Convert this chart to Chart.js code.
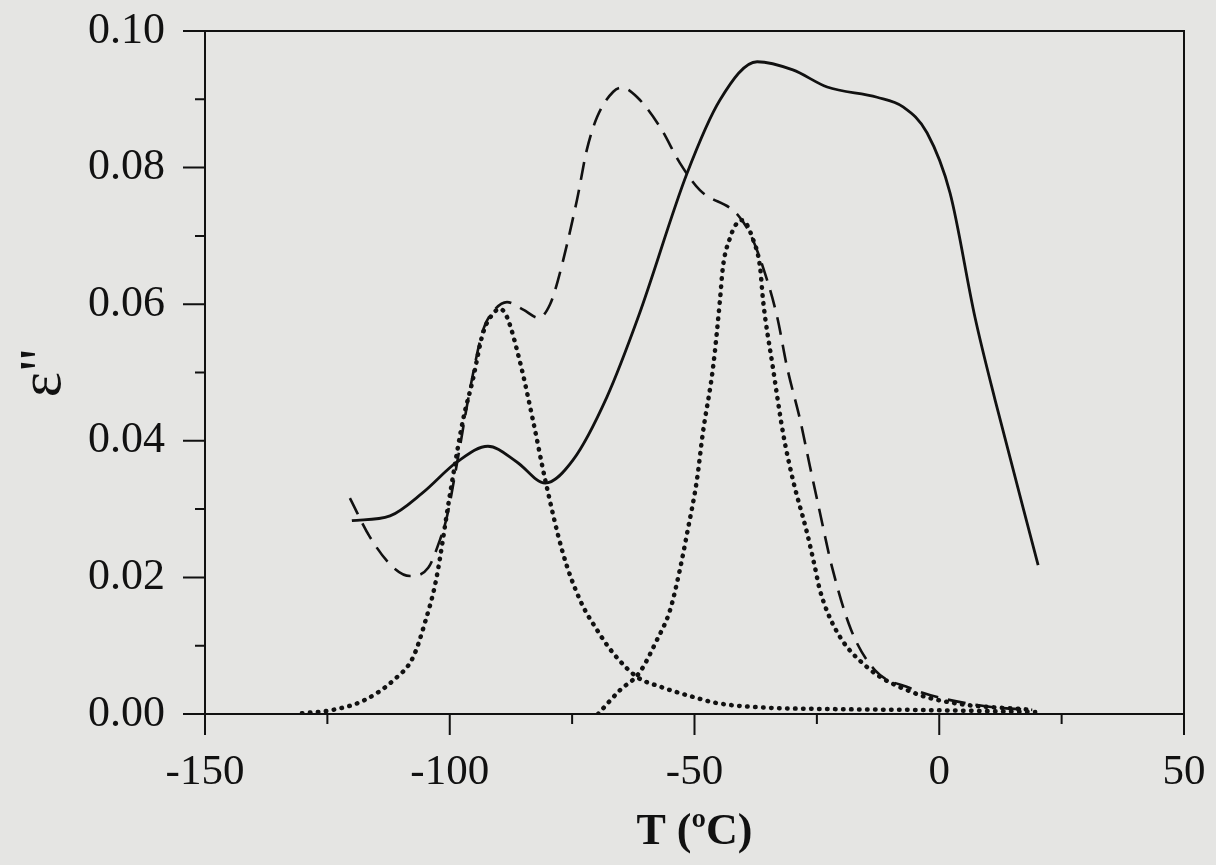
<!DOCTYPE html>
<html>
<head>
<meta charset="utf-8">
<script src="https://cdn.jsdelivr.net/npm/chart.js@4/dist/chart.umd.min.js"></script>
<style>
  html, body { margin: 0; padding: 0; background: #e5e5e3; }
  #wrap { width: 1216px; height: 865px; position: relative; }
</style>
</head>
<body>
<div id="wrap"><canvas id="chart"></canvas></div>
<script>
// values (T in degC, eps'' loss)
const solidT = [-120, -112.2, -105.5, -98.5, -92.2, -86.3, -80.5, -74.8, -67.9, -61.4, -51.5, -44.8, -37.2, -29.9, -22.9, -12.7, -7.4, -2.5, 2.2, 7.3, 11.4, 20.2];
const solidE = [0.0283, 0.0290, 0.0324, 0.0369, 0.0392, 0.0369, 0.0338, 0.0372, 0.0464, 0.0583, 0.0792, 0.0899, 0.0955, 0.0943, 0.0918, 0.0903, 0.0889, 0.0851, 0.0763, 0.0581, 0.0460, 0.0218];

const dashedT = [-120.4, -116.3, -111.6, -108.1, -104.4, -102.0, -100.6, -98.3, -95.9, -93.2, -90.8, -88.3, -85.0, -81.8, -79.5, -77.9, -74.0, -72.0, -69.9, -66.6, -64.8, -61.7, -57.0, -53.0, -48.9, -41.3, -38.7, -36.0, -33.1, -31.1, -28.4, -26.4, -24.5, -21.9, -18.0, -13.1, -6.0, 0.6, 11.0, 19.0];
const dashedE = [0.0316, 0.0259, 0.0215, 0.0202, 0.0214, 0.0255, 0.0288, 0.0376, 0.0474, 0.0562, 0.0592, 0.0603, 0.0592, 0.0580, 0.0600, 0.0635, 0.0753, 0.0826, 0.0874, 0.0911, 0.0917, 0.0903, 0.0859, 0.0807, 0.0767, 0.0732, 0.0704, 0.0654, 0.0581, 0.0508, 0.0430, 0.0362, 0.0299, 0.0215, 0.0123, 0.0064, 0.0038, 0.0023, 0.0010, 0.0006];

const dot1T = [-130.2, -123.9, -117.5, -111.4, -107.5, -105.1, -102.8, -99.9, -97.3, -95.3, -93.2, -90.8, -89.7, -88.3, -85.6, -83.0, -80.5, -76.9, -73.4, -69.9, -66.6, -61.7, -57.0, -50.3, -45.4, -37.2, -20, -5.2, 19.6];
const dot1E = [0.0001, 0.0006, 0.0020, 0.0050, 0.0083, 0.0133, 0.0196, 0.0324, 0.0430, 0.0489, 0.0558, 0.0589, 0.0593, 0.0581, 0.0514, 0.0430, 0.0343, 0.0236, 0.0167, 0.0123, 0.0089, 0.0054, 0.0040, 0.0025, 0.0016, 0.0010, 0.0007, 0.0006, 0.0003];

const dot2T = [-69.7, -65.2, -61.3, -57.7, -55.0, -53.0, -51.5, -49.5, -48.3, -46.2, -44.8, -44.2, -42.7, -41.3, -40.3, -38.0, -36.6, -36.0, -34.0, -31.9, -29.9, -27.0, -25.4, -24.4, -21.1, -14.8, -5.2, 3.0, 19.0];
const dot2E = [0.0000, 0.0035, 0.0060, 0.0108, 0.0152, 0.0211, 0.0265, 0.0343, 0.0411, 0.0508, 0.0606, 0.0654, 0.0698, 0.0719, 0.0723, 0.0694, 0.0654, 0.0606, 0.0508, 0.0411, 0.0343, 0.0265, 0.0215, 0.0182, 0.0123, 0.0069, 0.0031, 0.0016, 0.0006];

// axis ticks
const xMajor = [-150, -100, -50, 0, 50];
const xMinor = [-125, -75, -25, 25];
const yMajor = [0, 0.02, 0.04, 0.06, 0.08, 0.10];
const yMinor = [0.01, 0.03, 0.05, 0.07, 0.09];

const pts = (xs, ys) => xs.map((x, i) => ({ x: x, y: ys[i] }));
const ink = '#111';
const serif = "'Liberation Serif', 'Times New Roman', serif";

// paper background + box frame + outward ticks
const framePlugin = {
  id: 'frame',
  beforeDraw(chart) {
    const { ctx, width, height } = chart;
    ctx.save();
    ctx.fillStyle = '#e5e5e3';
    ctx.fillRect(0, 0, width, height);
    ctx.restore();
  },
  afterDraw(chart) {
    const { ctx, chartArea: a, scales } = chart;
    ctx.save();
    ctx.strokeStyle = ink;
    ctx.lineWidth = 2;
    ctx.strokeRect(a.left, a.top, a.right - a.left, a.bottom - a.top);
    ctx.beginPath();
    xMajor.forEach((v) => {
      const px = scales.x.getPixelForValue(v);
      ctx.moveTo(px, a.bottom); ctx.lineTo(px, a.bottom + 21);
    });
    xMinor.forEach((v) => {
      const px = scales.x.getPixelForValue(v);
      ctx.moveTo(px, a.bottom); ctx.lineTo(px, a.bottom + 10);
    });
    yMajor.forEach((v) => {
      const py = scales.y.getPixelForValue(v);
      ctx.moveTo(a.left, py); ctx.lineTo(a.left - 22, py);
    });
    yMinor.forEach((v) => {
      const py = scales.y.getPixelForValue(v);
      ctx.moveTo(a.left, py); ctx.lineTo(a.left - 10, py);
    });
    ctx.stroke();
    ctx.restore();
  }
};

// pin the axis boxes so the plot box sits where the original one does
function fitX(s) {
  s.height = 151;
  s.paddingLeft = 0;
  s.paddingRight = 0;
}
function fitY(s) {
  s.width = 205;
  s.paddingTop = 0;
  s.paddingBottom = 0;
}

new Chart(document.getElementById('chart'), {
  type: 'line',
  data: {
    datasets: [
      { data: pts(solidT, solidE), borderColor: ink, borderWidth: 2.8 },
      { data: pts(dashedT, dashedE), borderColor: ink, borderWidth: 2.6, borderDash: [18, 10] },
      { data: pts(dot1T, dot1E), borderColor: ink, borderWidth: 4.5, borderDash: [0.5, 7.5], borderCapStyle: 'round' },
      { data: pts(dot2T, dot2E), borderColor: ink, borderWidth: 4.5, borderDash: [0.5, 7.5], borderCapStyle: 'round' }
    ]
  },
  options: {
    responsive: true,
    maintainAspectRatio: false,
    animation: false,
    layout: { padding: { top: 31, right: 32, left: 0, bottom: 0 } },
    elements: {
      point: { radius: 0 },
      line: { cubicInterpolationMode: 'monotone', fill: false }
    },
    plugins: { legend: { display: false }, tooltip: { enabled: false } },
    scales: {
      x: {
        type: 'linear',
        min: -150,
        max: 50,
        afterFit: fitX,
        grid: { display: false, drawTicks: false },
        border: { display: false },
        ticks: { stepSize: 50, padding: 33, color: ink, maxRotation: 0, font: { family: serif, size: 43 } },
        title: { display: true, text: 'T (ºC)', color: ink, padding: { top: 0, bottom: 6 }, font: { family: serif, size: 44, weight: 'bold' } }
      },
      y: {
        min: 0,
        max: 0.1,
        afterFit: fitY,
        grid: { display: false, drawTicks: false },
        border: { display: false },
        ticks: { stepSize: 0.02, padding: 40, color: ink, font: { family: serif, size: 44 }, callback: (v) => v.toFixed(2) },
        title: { display: true, text: 'ε"', color: ink, padding: { top: 8, bottom: 0 }, font: { family: serif, size: 60 } }
      }
    }
  },
  plugins: [framePlugin]
});
</script>
</body>
</html>
